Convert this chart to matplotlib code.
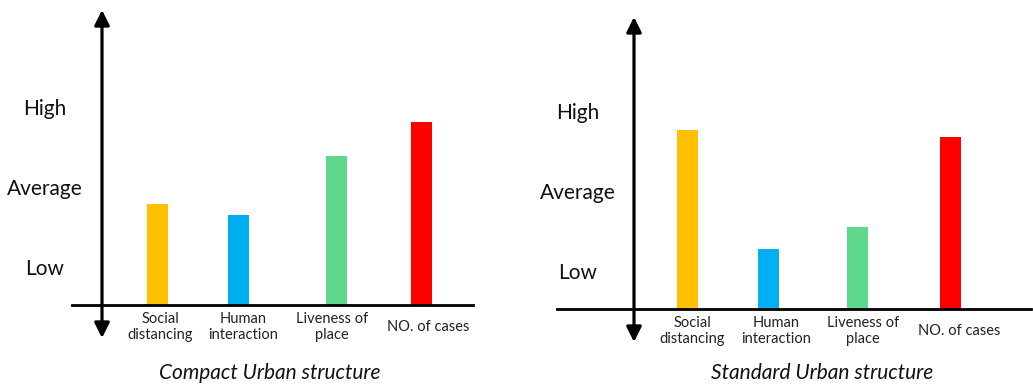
#!/usr/bin/env python3
"""
Two bar sketches: compact vs standard urban structure
"""
import matplotlib
matplotlib.use('Agg')
import matplotlib.pyplot as plt

plt.rcParams['font.family'] = ['Lato', 'DejaVu Sans']

# --- data ---
categories = ['Social\ndistancing', 'Human\ninteraction', 'Liveness of\nplace', 'NO. of cases']
levels = ['Low', 'Average', 'High']
level_pos = [0.45, 1.45, 2.45]       # roughly the middle of each band
compact_values = [1.26, 1.13, 1.86, 2.29]
standard_values = [2.24, 0.75, 1.03, 2.15]
titles = ['Compact Urban structure', 'Standard Urban structure']
colors = ['#FFC000', '#00B0F0', '#5ED88C', '#FF0000']

# --- layout (pixel space of the 1033x385 canvas) ---
W, H = 1033, 385
PX = 80.0  # pixels per level unit
panels = [
    dict(x0=72, x1=473, base=305, top=10, arrow_x=102, arrow_bot=338,
         bars=[157.5, 238, 336.5, 421.5], labels=[160, 243, 332, 428],
         level_x=45, title_x=270, values=compact_values, title=titles[0]),
    dict(x0=557, x1=1031, base=309, top=17, arrow_x=634, arrow_bot=342,
         bars=[687.5, 768.5, 857.5, 950.5], labels=[692, 776, 863, 959],
         level_x=578, title_x=822, values=standard_values, title=titles[1]),
]

fig = plt.figure(figsize=(W / 100, H / 100), dpi=100)

for p in panels:
    ax = fig.add_axes([p['x0'] / W, (H - p['base']) / H,
                       (p['x1'] - p['x0']) / W, (p['base'] - p['top']) / H])
    ymax = (p['base'] - p['top']) / PX
    ax.set_xlim(p['x0'], p['x1'])
    ax.set_ylim(0, ymax)
    ax.axis('off')

    ax.bar(p['bars'], p['values'], width=21, color=colors, zorder=2)

    # baseline
    ax.plot([p['x0'], p['x1']], [0, 0], color='black', lw=2.0, clip_on=False, zorder=3)

    # double-headed vertical axis arrow
    ybot = -(p['arrow_bot'] - p['base']) / PX
    ax.annotate('', xy=(p['arrow_x'], ymax), xytext=(p['arrow_x'], ybot),
                arrowprops=dict(arrowstyle='<|-|>,head_length=0.9,head_width=0.45',
                                lw=2.3, color='black', shrinkA=0, shrinkB=0),
                annotation_clip=False)

    for name, y in zip(levels, level_pos):
        ax.text(p['level_x'], y, name, ha='center', va='center', fontsize=15,
                color='#111111', clip_on=False)

    for name, x in zip(categories, p['labels']):
        ax.text(x, -22 / PX, name, ha='center', va='center', fontsize=10.5,
                linespacing=1.2, color='#222222', clip_on=False)

    fig.text(p['title_x'] / W, 1 - 373 / H, p['title'], ha='center', va='center',
             fontsize=15, style='italic', color='#111111')

plt.savefig('out.png', dpi=100)
